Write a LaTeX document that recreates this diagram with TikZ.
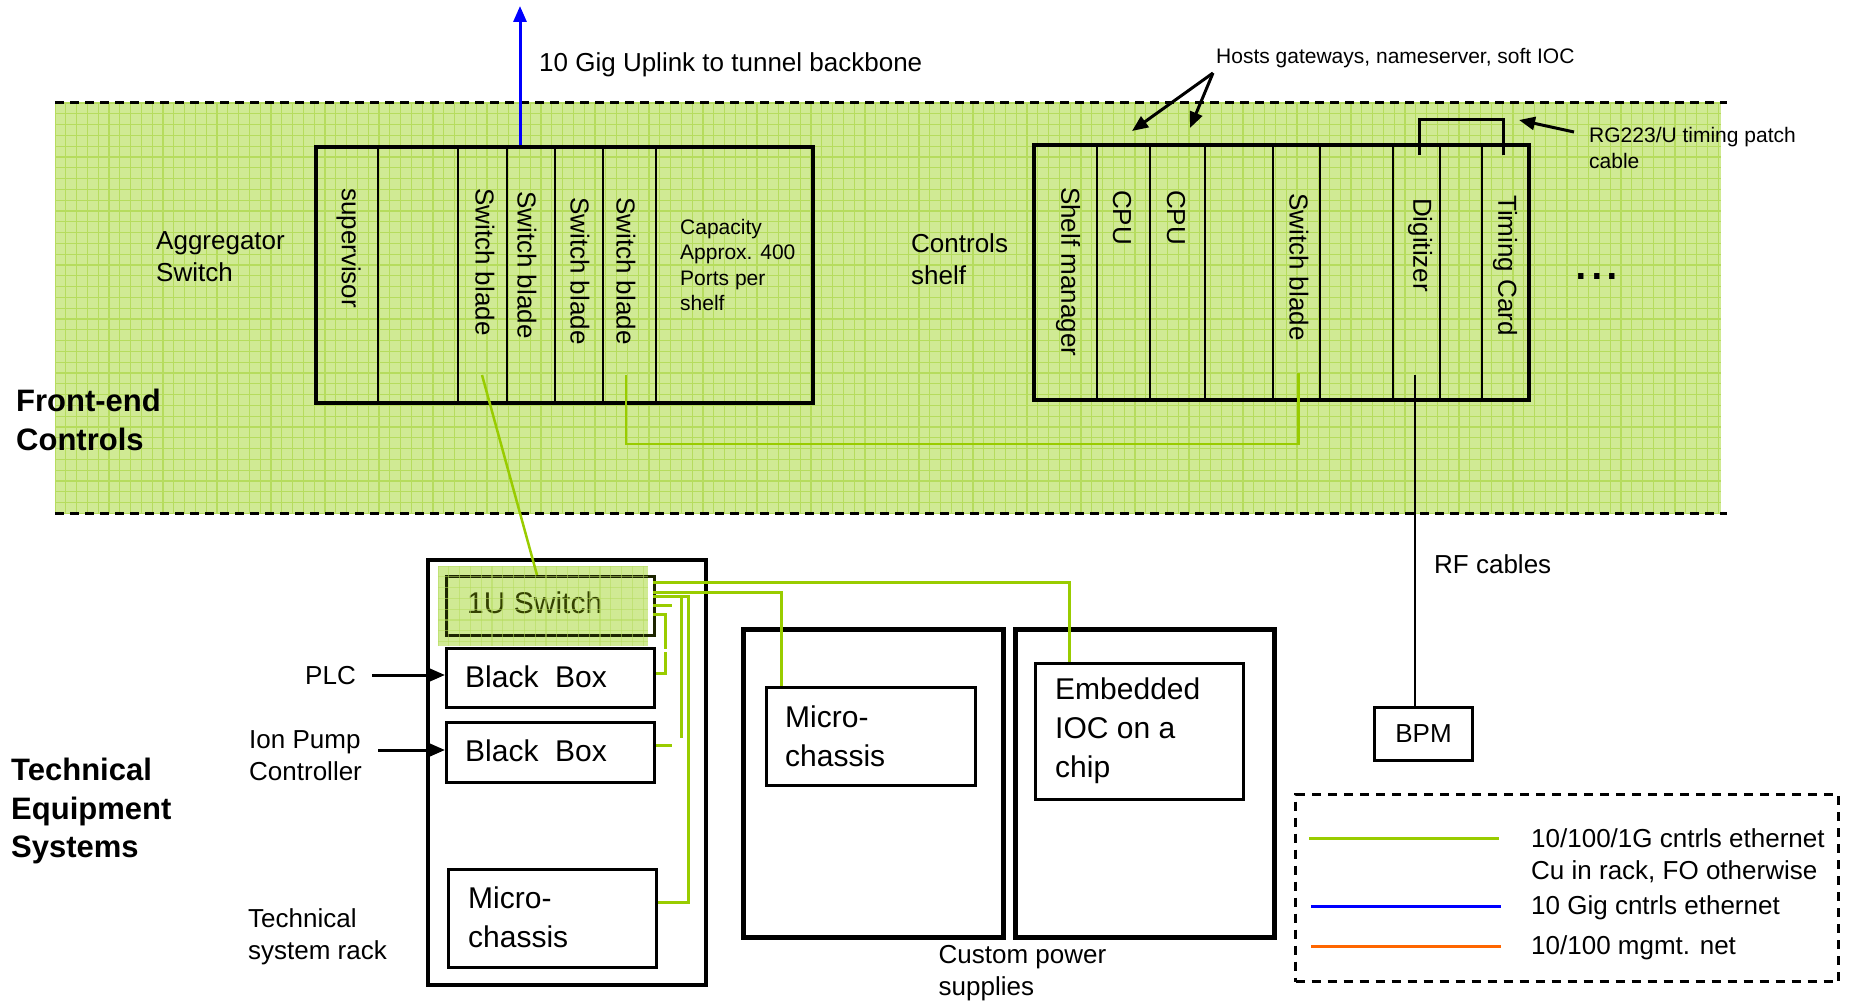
\documentclass[tikz,border=0pt]{standalone}
\usepackage{fontspec}
\setmainfont{Liberation Sans}
\usetikzlibrary{arrows.meta}

\definecolor{bandfill}{RGB}{208,234,148}
\definecolor{bandgrid}{RGB}{182,220,94}
\definecolor{enet}{RGB}{153,204,0}
\definecolor{tengig}{RGB}{0,0,255}
\definecolor{mgmt}{RGB}{255,102,0}
\definecolor{olive}{RGB}{52,66,0}
\definecolor{darkolive}{RGB}{28,36,0}

\newcommand\fsz[2]{\fontsize{#1}{#2}\selectfont}

\begin{document}
\begin{tikzpicture}[x=1pt,y=-1pt,
  txt/.style={font=\fsz{26}{32}, inner sep=0, align=left, anchor=west},
  small/.style={font=\fsz{21}{26}, inner sep=0, align=left, anchor=west},
  big/.style={font=\fsz{30}{38.5}, inner sep=0, align=left, anchor=west},
  heading/.style={font=\bfseries\fsz{31}{38.5}, inner sep=0, align=left, anchor=west},
  slot/.style={font=\fsz{26}{32}, inner sep=0, rotate=-90, anchor=west},
  divider/.style={line width=2.5pt},
  unit/.style={draw, line width=3pt, inner sep=0, anchor=north west},
  psu/.style={draw, line width=5pt, inner sep=0, anchor=north west},
  cu/.style={enet, line width=3pt},
  tip/.style={-{Triangle[length=16pt,width=13pt]}},
  bandedge/.style={line width=3pt, dash pattern=on 8.5pt off 6.5pt}
]
\useasboundingbox (0,0) rectangle (1851,1006);

% ---------- front-end controls band ----------
\begin{scope}
  \fill[bandfill] (55,103) rectangle (1721,513);
  \clip (55,103) rectangle (1721,513);
  \foreach \gx in {55,65.8,...,1722} \draw[bandgrid, line width=1.2pt] (\gx,103) -- (\gx,513);
  \foreach \gy in {103,113.8,...,514} \draw[bandgrid, line width=1.2pt] (55,\gy) -- (1721,\gy);
\end{scope}
\draw[bandedge] (55,103) -- (1727,103);
\draw[bandedge] (55,513) -- (1727,513);

\node[heading] (fec) at (16,420) {Front-end\\Controls};

% ---------- aggregator switch ----------
\node[unit, line width=4pt, minimum width=497pt, minimum height=256pt] (agg) at (314,145) {};
\foreach \dx in {378,458,507,555,603,656}
  \draw[divider] (\dx,145) -- (\dx,401);
\node[txt] (aggl) at (156,257) {Aggregator\\Switch};
\node[slot] (sup) at (348.5,188) {supervisor};
\node[slot] (swa) at (485,188) {Switch blade};
\node[slot] (swb) at (527,191) {Switch blade};
\node[slot] (swc) at (580,197) {Switch blade};
\node[slot] (swd) at (626,197) {Switch blade};
\node[small, font=\fsz{21}{25.5}] (cap) at (680,265) {Capacity\\Approx. 400\\Ports per\\shelf};

% 10 Gig uplink
\coordinate (upl) at (520,145);
\coordinate (upt) at (520,6);
\draw[tengig, line width=3pt, tip] (upl) -- (upt);
\node[txt] (uplt) at (539,65) {10 Gig Uplink to tunnel backbone};

% ---------- controls shelf ----------
\node[unit, line width=4pt, minimum width=495pt, minimum height=255pt] (shelf) at (1032,143) {};
\foreach \dx in {1097,1150,1205,1273,1320,1393,1440,1482}
  \draw[divider] (\dx,143) -- (\dx,398);
\node[txt] (shelfl) at (911,259) {Controls\\shelf};
\node[slot] (shm) at (1068,187) {Shelf manager};
\node[slot] (cpua) at (1122,190) {CPU};
\node[slot] (cpub) at (1176,190) {CPU};
\node[slot] (swe) at (1299,193) {Switch blade};
\node[slot] (dig) at (1420,198) {Digitizer};
\node[slot] (tim) at (1505,195) {Timing Card};
\node[font=\fsz{56}{60}, inner sep=0, anchor=base] (more) at (1597,279) {...};

% host annotations
\node[small] (hosts) at (1216,58) {Hosts gateways, nameserver, soft IOC};
\coordinate (hostsrc) at (1213,73);
\coordinate (cpuatop) at (1132,131);
\coordinate (cpubtop) at (1190,128);
\draw[line width=3pt, tip] (hostsrc) -- (cpuatop);
\draw[line width=3pt, tip] (hostsrc) -- (cpubtop);

% timing patch cable
\coordinate (digtop) at (1419,155);
\coordinate (timtop) at (1503,155);
\draw[line width=3pt] (digtop) -- (1419,120) -- (1503,120) -- (timtop);
\node[small] (rg) at (1589,148) {RG223/U timing patch\\cable};
\coordinate (rgsrc) at (1574,132);
\coordinate (rgdst) at (1519,120);
\draw[line width=3pt, tip] (rgsrc) -- (rgdst);

% ---------- links inside the band ----------
\coordinate (swaend) at (482,375);
\coordinate (swdend) at (626,375);
\coordinate (sweend) at (1298.5,373);
\coordinate (digend) at (1415,375);
\draw[cu, line width=2.5pt] (swdend) -- (626,444) -- (1298.5,444) -- (sweend);

% ---------- BPM ----------
\node[unit, minimum width=98pt, minimum height=53pt] (bpm) at (1373,706) {};
\node[txt, anchor=center] (bpml) at (bpm.center) {BPM};
\draw[line width=2.5pt] (digend) -- (bpm.north -| digend);
\node[txt] (rf) at (1434,564) {RF cables};

% ---------- technical equipment systems ----------
\node[heading] (tes) at (11,811) {Technical\\Equipment\\Systems};

\node[unit, line width=4pt, minimum width=278pt, minimum height=425pt] (rack) at (426,558) {};
\node[txt] (rackl) at (248,937) {Technical\\system rack};

% 1U switch, highlighted with the band's green
\fill[bandfill] (438,566) rectangle (648,646);
\node[unit, draw=darkolive, minimum width=208pt, minimum height=59pt] (sw1u) at (445,575) {};
\node[big, olive] (sw1ul) at (467,603) {1U Switch};
\begin{scope}
  \clip (438,566) rectangle (648,646);
  \foreach \gx in {438,448.8,...,649} \draw[bandgrid, line width=1.2pt, opacity=0.55] (\gx,566) -- (\gx,646);
  \foreach \gy in {566,576.8,...,647} \draw[bandgrid, line width=1.2pt, opacity=0.55] (438,\gy) -- (648,\gy);
\end{scope}

\node[unit, minimum width=208pt, minimum height=59pt] (bb1) at (445,647) {};
\node[big] (bb1l) at (465,677) {Black\ \ Box};
\node[unit, minimum width=208pt, minimum height=60pt] (bb2) at (445,721) {};
\node[big] (bb2l) at (465,751) {Black\ \ Box};
\node[unit, minimum width=208pt, minimum height=98pt] (mc1) at (447,868) {};
\node[big] (mc1l) at (468,917.5) {Micro-\\chassis};

\node[txt] (plc) at (305,676) {PLC};
\coordinate (plcs) at (372,675);
\draw[line width=3pt, tip] (plcs) -- (bb1.west |- plcs);
\node[txt] (ion) at (249,756) {Ion Pump\\Controller};
\coordinate (ions) at (378,750);
\draw[line width=3pt, tip] (ions) -- (bb2.west |- ions);

% custom power supplies
\node[psu, minimum width=260pt, minimum height=308pt] (psua) at (741,627) {};
\node[psu, minimum width=259pt, minimum height=308pt] (psub) at (1013,627) {};
\node[txt] (psul) at (938.5,973) {Custom power\\supplies};
\node[unit, minimum width=209pt, minimum height=98pt] (mc2) at (765,686) {};
\node[big] (mc2l) at (785,736.5) {Micro-\\chassis};
\node[unit, minimum width=208pt, minimum height=136pt] (ioc) at (1034,662) {};
\node[big, font=\fsz{30}{39}] (iocl) at (1055,731) {Embedded\\IOC on a\\chip};

% uplink from the 1U switch to the aggregator
\coordinate (sw1utop) at (537,575);
\draw[cu, line width=2.5pt] (swaend) -- (sw1utop);

% copper links fanning out of the 1U switch
\draw[cu] (653,582) -- (1069.5,582) -- (ioc.north -| 1069.5,0);
\draw[cu] (653,592) -- (781.5,592) -- (mc2.north -| 781.5,0);
\draw[cu] (653,596) -- (688,596) -- (688,902) -- (mc1.east |- 0,902);
\draw[cu] (681,596) -- (681,738);
\draw[cu] (653,605) -- (672,605);
\draw[cu] (653,614) -- (665,614) -- (665,649);
\draw[cu] (665,652) -- (665,673) -- (bb1.east |- 0,673);
\draw[cu] (bb2.east |- 0,745) -- (672,745);

% ---------- legend ----------
\node[draw, line width=3pt, dash pattern=on 9pt off 7pt, minimum width=543pt, minimum height=187pt, inner sep=0, anchor=north west] (legend) at (1294,793) {};
\coordinate (lga) at (1309,838); \coordinate (lgb) at (1499,838);
\coordinate (lba) at (1311,906); \coordinate (lbb) at (1501,906);
\coordinate (loa) at (1311,946); \coordinate (lob) at (1501,946);
\draw[enet, line width=3pt] (lga) -- (lgb);
\draw[tengig, line width=3pt] (lba) -- (lbb);
\draw[mgmt, line width=3pt] (loa) -- (lob);
\node[txt] (lgt) at (1531,856) {10/100/1G cntrls ethernet\\Cu in rack, FO otherwise};
\node[txt] (lbt) at (1531,908) {10 Gig cntrls ethernet};
\node[txt] (lot) at (1531,948) {10/100 mgmt. net};
\end{tikzpicture}
\end{document}
